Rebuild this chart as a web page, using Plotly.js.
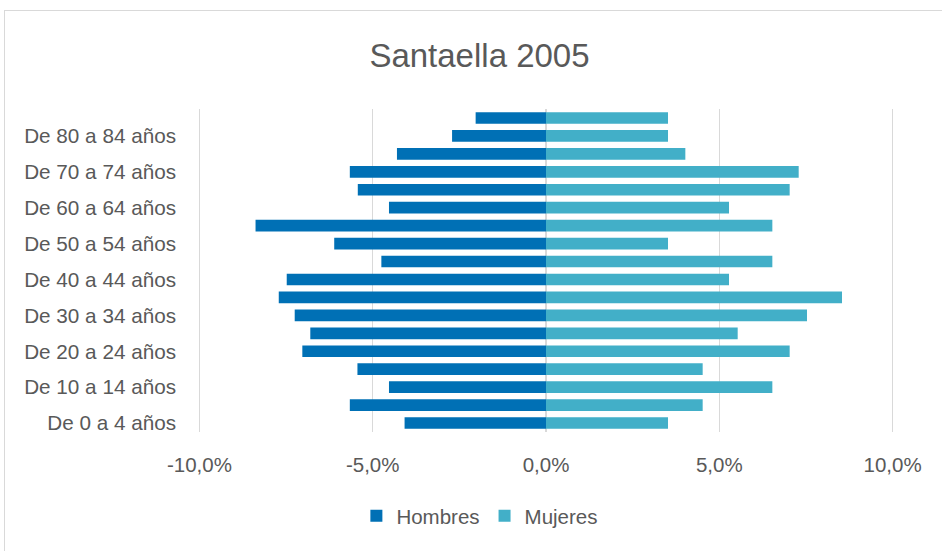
<!DOCTYPE html>
<html>
<head>
<meta charset="utf-8">
<script src="https://cdn.plot.ly/plotly-3.0.1.min.js"></script>
<style>
  html, body { margin: 0; padding: 0; background: #ffffff; }
  #frame { position: absolute; left: 4px; top: 10px; width: 950px; height: 560px;
           border-top: 1px solid #d9d9d9; border-left: 1px solid #d9d9d9; }
  #chart { position: absolute; left: 0; top: 0; width: 942px; height: 551px; }
</style>
</head>
<body>
<div id="frame"></div>
<div id="chart"></div>
<script>
const categories = [
  "De 0 a 4 años", "De 5 a 9 años", "De 10 a 14 años", "De 15 a 19 años",
  "De 20 a 24 años", "De 25 a 29 años", "De 30 a 34 años", "De 35 a 39 años",
  "De 40 a 44 años", "De 45 a 49 años", "De 50 a 54 años", "De 55 a 59 años",
  "De 60 a 64 años", "De 65 a 69 años", "De 70 a 74 años", "De 75 a 79 años",
  "De 80 a 84 años", "De 85 y más años"
];
// percentages (Hombres shown to the left as negative values)
const hombres = [-4.08, -5.66, -4.53, -5.44, -7.03, -6.80, -7.25, -7.71, -7.48,
                 -4.75, -6.11, -8.38, -4.53, -5.43, -5.66, -4.30, -2.71, -2.03];
const mujeres = [3.52, 4.52, 6.53, 4.52, 7.03, 5.53, 7.53, 8.54, 5.28,
                 6.53, 3.52, 6.53, 5.28, 7.03, 7.29, 4.02, 3.52, 3.52];
const yTickLabels = ["De 0 a 4 años", "De 10 a 14 años", "De 20 a 24 años",
  "De 30 a 34 años", "De 40 a 44 años", "De 50 a 54 años", "De 60 a 64 años",
  "De 70 a 74 años", "De 80 a 84 años"];
const xTickVals = [-10, -5, 0, 5, 10];
const xTickText = ["-10,0%", "-5,0%", "0,0%", "5,0%", "10,0%"];

const FONT = "Liberation Sans, Arial, sans-serif";
const TXT = "#595959";

const data = [
  { type: "bar", orientation: "h", name: "Hombres", y: categories, x: hombres,
    marker: { color: "#0070B5" } },
  { type: "bar", orientation: "h", name: "Mujeres", y: categories, x: mujeres,
    marker: { color: "#42AFC8" } }
];

const layout = {
  width: 942, height: 551,
  paper_bgcolor: "rgba(0,0,0,0)", plot_bgcolor: "rgba(0,0,0,0)",
  margin: { l: 198, r: 48, t: 109, b: 119, autoexpand: false },
  font: { family: FONT, color: TXT, size: 20 },
  title: { text: "Santaella 2005", font: { family: FONT, size: 33, color: TXT },
           x: 0.509, xref: "container", xanchor: "center",
           y: 0.90, yref: "container", yanchor: "middle" },
  barmode: "overlay",
  bargap: 0.35,
  xaxis: {
    range: [-10.04, 10.04], tickvals: xTickVals, ticktext: xTickText,
    showgrid: true, gridcolor: "#d9d9d9", gridwidth: 1.5,
    zeroline: true, zerolinecolor: "#d9d9d9", zerolinewidth: 1.5,
    showline: false, ticks: "", ticklabelstandoff: 18, tickangle: 0,
    automargin: false,
    tickfont: { family: FONT, size: 20.5, color: TXT }, fixedrange: true
  },
  yaxis: {
    type: "category", categoryorder: "array", categoryarray: categories,
    tickvals: yTickLabels, ticktext: yTickLabels,
    showgrid: false, zeroline: false, showline: false, ticks: "",
    ticklabelstandoff: 21, automargin: false,
    tickfont: { family: FONT, size: 20.7, color: TXT }, fixedrange: true
  },
  showlegend: true,
  legend: {
    orientation: "h", x: 0.405, xref: "paper", xanchor: "center",
    y: -0.26, yanchor: "middle",
    font: { family: FONT, size: 20.5, color: TXT },
    itemwidth: 30, traceorder: "normal"
  }
};

Plotly.newPlot("chart", data, layout, { displayModeBar: false, staticPlot: true });
</script>
</body>
</html>
